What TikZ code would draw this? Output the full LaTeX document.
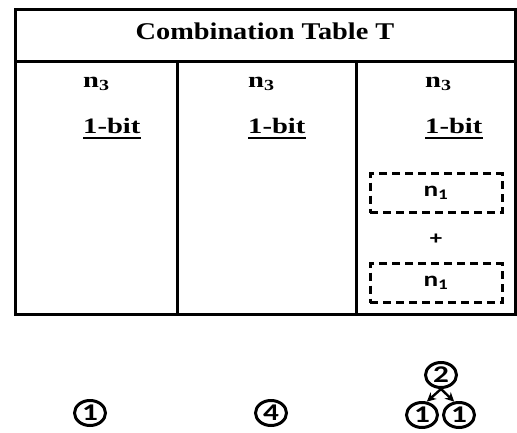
\documentclass[tikz,border=0pt]{standalone}
\usepackage{fontspec}
\setmainfont{Liberation Serif}
\newfontfamily\hdfont{Liberation Serif}[FakeStretch=1.18]
\newfontfamily\bodyfont{Liberation Serif}[FakeStretch=1.3]
\newfontfamily\calfont{Carlito}[FakeStretch=1.3]
\usetikzlibrary{arrows.meta,shapes.geometric,positioning}
\tikzset{
	grid/.style = {line width=3pt},% table rules
	title/.style = {font=\hdfont\fontsize{24}{27}\selectfont\bfseries, inner sep=0pt},
	cell/.style = {font=\bodyfont\fontsize{22}{24}\selectfont\bfseries,
		inner sep=0pt, anchor=base west},
	uline/.style = {line width=1.8pt},% underline of the bit label
	dashbox/.style = {draw, line width=3pt, dash pattern=on 8pt off 5pt,
		minimum width=132pt, minimum height=39pt, inner sep=0pt,
		font=\calfont\fontsize{21}{22}\selectfont\bfseries},
	cnt/.style = {ellipse, draw, line width=3pt, minimum width=31pt,
		minimum height=25pt, inner sep=0pt,
		font=\calfont\fontsize{24}{24}\selectfont\bfseries},% counter node
	down/.style = {-{Stealth[length=9pt,width=9pt]}, line width=2.4pt}
}

\begin{document}
\begin{tikzpicture}[x=1pt,y=-1pt]
\useasboundingbox (0,0) rectangle (517,432);

% table frame
\draw[grid] (15,9) rectangle (515,314);
\draw[grid] (15,61) -- (515,61);
\draw[grid] (177,61) -- (177,314);
\draw[grid] (356,61) -- (356,314);

\node[title] (head) at (265,31) {Combination Table T};

% one column per entry
\foreach \i/\x in {1/83,2/248,3/425}{
	\node[cell] (n\i) at (\x,87) {n\textsubscript{3}};
	\node[cell] (bit\i) at (\x,133) {1-bit};
	\draw[uline] ([yshift=-5pt]bit\i.base west) -- ([yshift=-5pt]bit\i.base east);
}

\node[dashbox] (top) at (436,193) {n\textsubscript{1}};
\node[font=\calfont\fontsize{19}{20}\selectfont\bfseries] (plus) at (436,239) {+};
\node[dashbox] (bot) at (436,283) {n\textsubscript{1}};

% counters under the table
\node[cnt] (c1) at (90,413) {1};
\node[cnt] (c4) at (271,413) {4};
\node[cnt] (p) at (441,375) {2};
\node[cnt] (l) at (422,415) {1};
\node[cnt] (r) at (459,415) {1};
\draw[down] (p.south) -- (l.70);
\draw[down] (p.south) -- (r.110);
\end{tikzpicture}
\end{document}
